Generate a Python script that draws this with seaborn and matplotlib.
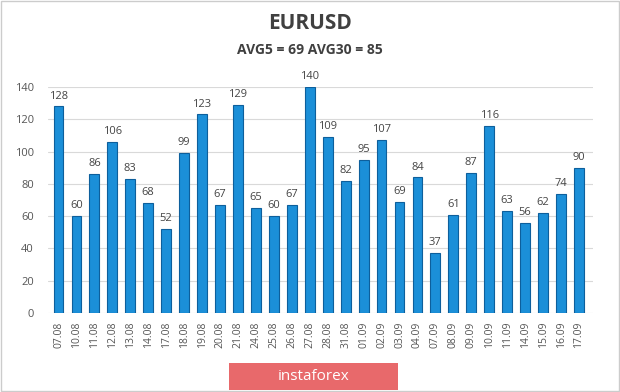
import pandas as pd
import numpy as np
import matplotlib.pyplot as plt
import seaborn as sns
from matplotlib.patches import Rectangle

# --- data ---
dates = ['07.08', '10.08', '11.08', '12.08', '13.08', '14.08', '17.08', '18.08',
         '19.08', '20.08', '21.08', '24.08', '25.08', '26.08', '27.08', '28.08',
         '31.08', '01.09', '02.09', '03.09', '04.09', '07.09', '08.09', '09.09',
         '10.09', '11.09', '14.09', '15.09', '16.09', '17.09']
values = [128, 60, 86, 106, 83, 68, 52, 99, 123, 67, 129, 65, 60, 67, 140,
          109, 82, 95, 107, 69, 84, 37, 61, 87, 116, 63, 56, 62, 74, 90]
title = 'EURUSD'
subtitle = 'AVG5 = 69 AVG30 = 85'

df = pd.DataFrame({'date': dates, 'value': values})

sns.set_theme(style='white')
plt.rcParams['font.family'] = ['Open Sans', 'DejaVu Sans']

fig = plt.figure(figsize=(6.2, 3.92), dpi=100)
ax = fig.add_axes([0.077, 0.2015, 0.88, 0.5765])

sns.barplot(data=df, x='date', y='value', color='#1b8fd8', width=0.55,
            edgecolor='#0d5f9c', linewidth=0.8, saturation=1, ax=ax)

for i, v in enumerate(values):
    ax.text(i, v + 3, str(v), ha='center', va='bottom', fontsize=8,
            color='#444444', clip_on=False)

ax.set_ylim(0, 140)
ax.set_yticks(range(0, 141, 20))
ax.yaxis.grid(True, color='#d9d9d9', linewidth=0.8)
ax.set_axisbelow(True)
for s in ax.spines.values():
    s.set_visible(False)
ax.set_xlabel('')
ax.set_ylabel('')
ax.tick_params(axis='x', rotation=90, labelsize=7.5, colors='#555555', length=0, pad=6)
ax.tick_params(axis='y', labelsize=8, colors='#555555', length=0, pad=10)
ax.set_xlim(-0.6, len(dates) - 0.2)

fig.text(0.5, 0.94, title, ha='center', va='center', fontsize=15,
         fontweight='bold', color='#404040')
fig.text(0.5, 0.872, subtitle, ha='center', va='center', fontsize=10,
         fontweight='bold', color='#404040')

# instaforex badge
fig.patches.append(Rectangle((0.37, 0.005), 0.272, 0.07, transform=fig.transFigure,
                             facecolor='#e8696b', edgecolor='none'))
fig.text(0.506, 0.04, 'instaforex', ha='center', va='center', fontsize=11,
         color='white')

# outer border
fig.patches.append(Rectangle((0.002, 0.002), 0.996, 0.996, transform=fig.transFigure,
                             facecolor='none', edgecolor='#cccccc', linewidth=1))

plt.savefig('out.png', dpi=100)
